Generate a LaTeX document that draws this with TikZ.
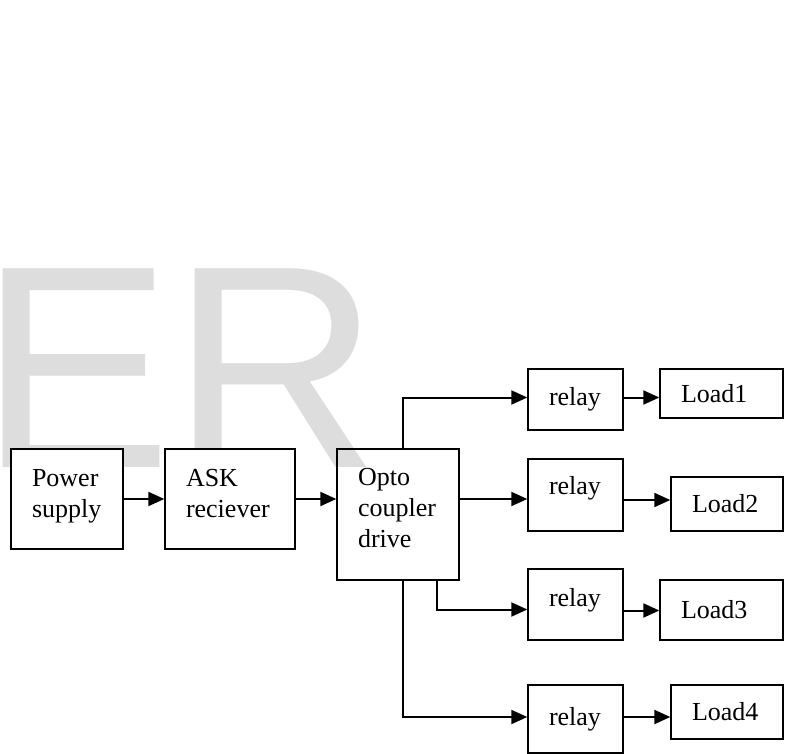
\documentclass[tikz,border=0pt]{standalone}
\usepackage{fontspec}
\setmainfont{Liberation Serif}
\newfontfamily\wmfont{Liberation Sans}
\usepackage{tikz}
\usetikzlibrary{arrows.meta}

\definecolor{wmgray}{HTML}{DDDDDD}

\begin{document}
\begin{tikzpicture}[x=1pt, y=-1pt,
		blk/.style={draw, rectangle, line width=1.4pt, inner xsep=21pt, inner ysep=0pt, align=left, font=\fontsize{26}{31}\selectfont},
		wire/.style={line width=2pt, -{Triangle[length=16pt, width=14pt]}}]
				\useasboundingbox (0,0) rectangle (787,754);

				% watermark behind everything
				\node[anchor=base west, inner sep=0pt, text=wmgray, font=\wmfont\fontsize{289}{289}\selectfont] (wm) at (-21,467) {ER};

				\node[blk, fill=white, text width=70pt, minimum height=100pt, text depth=43pt] (pow) at (67,499) {Power\\supply};
				\node[blk, fill=white, text width=88pt, minimum height=100pt, text depth=43pt] (ask) at (230,499) {ASK\\reciever};
				\node[blk, text width=80pt, minimum height=131pt, text depth=75pt] (opto) at (398,514.5) {Opto\\coupler\\drive};

				\node[blk, text width=53pt, minimum height=61pt] (rel1) at (575.5,399.5) {relay};
				\node[blk, text width=53pt, minimum height=72pt, text depth=19pt] (rel2) at (575.5,495) {relay};
				\node[blk, text width=53pt, minimum height=71pt, text depth=15pt] (rel3) at (575.5,604.5) {relay};
				\node[blk, text width=53pt, minimum height=68pt] (rel4) at (575.5,719) {relay};

				\node[blk, text width=81pt, minimum height=49pt] (ld1) at (721.5,393.5) {Load1};
				\node[blk, text width=70pt, minimum height=54pt] (ld2) at (727,504) {Load2};
				\node[blk, text width=81pt, minimum height=60pt] (ld3) at (721.5,610) {Load3};
				\node[blk, text width=70pt, minimum height=54pt] (ld4) at (727,712) {Load4};

				% taps on the opto coupler box
				\coordinate (o1) at ([xshift=5pt]opto.north);
				\coordinate (o3) at ([xshift=39pt]opto.south);
				\coordinate (o4) at ([xshift=5pt]opto.south);
				\coordinate (r1) at ([yshift=2pt]rel1.west);
				\coordinate (r2) at ([yshift=-4pt]rel2.west);
				\coordinate (r3) at ([yshift=-5pt]rel3.west);
				\coordinate (r4) at ([yshift=2pt]rel4.west);

				\draw[wire] (pow) -- (ask);
				\draw[wire] (ask.east) -- (ask.east -| opto.west);

				\draw[wire] (o1) |- (r1);
				\draw[wire] (opto.east |- r2) -- (r2);
				\draw[wire] (o3) |- (r3);
				\draw[wire] (o4) |- (r4);

				\draw[wire] (rel1.east |- r1) -- (ld1.west |- r1);
				\draw[wire] ([yshift=-5pt]rel2.east) -- ([yshift=-5pt]rel2.east -| ld2.west);
				\draw[wire] ([yshift=-6pt]rel3.east) -- ([yshift=-6pt]rel3.east -| ld3.west);
				\draw[wire] (rel4.east |- r4) -- (ld4.west |- r4);
\end{tikzpicture}
\end{document}
